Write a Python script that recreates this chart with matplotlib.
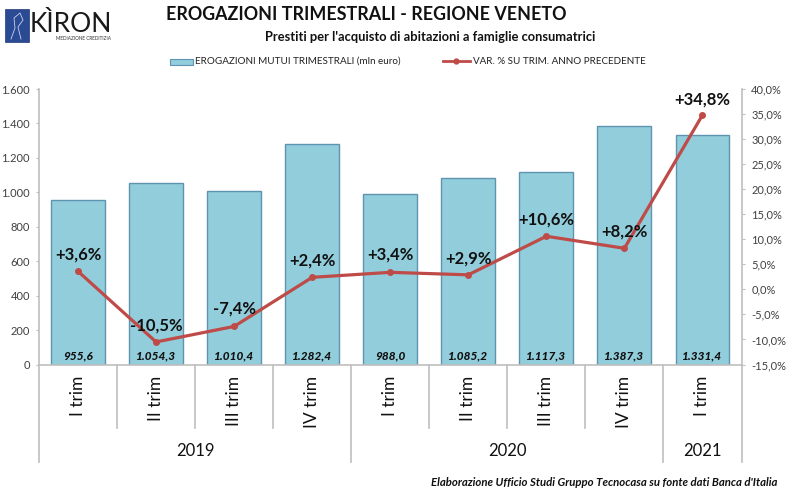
# -*- coding: utf-8 -*-
import matplotlib
matplotlib.use('Agg')
import matplotlib.pyplot as plt
from matplotlib.patches import Rectangle
from matplotlib.ticker import FuncFormatter

plt.rcParams['font.family'] = ['Lato', 'DejaVu Sans']

# dati
trimestri = ['I trim', 'II trim', 'III trim', 'IV trim', 'I trim', 'II trim', 'III trim', 'IV trim', 'I trim']
erogazioni = [955.6, 1054.3, 1010.4, 1282.4, 988.0, 1085.2, 1117.3, 1387.3, 1331.4]
etichette_barre = ['955,6', '1.054,3', '1.010,4', '1.282,4', '988,0', '1.085,2', '1.117,3', '1.387,3', '1.331,4']
variazioni = [3.6, -10.5, -7.4, 2.4, 3.4, 2.9, 10.6, 8.2, 34.8]
etichette_var = ['+3,6%', '-10,5%', '-7,4%', '+2,4%', '+3,4%', '+2,9%', '+10,6%', '+8,2%', '+34,8%']
anni = ['2019', '2020', '2021']
quarti_per_anno = [4, 4, 1]

W, H = 786, 494
fig = plt.figure(figsize=(W / 100, H / 100), dpi=100)
ax = fig.add_axes([39 / W, 1 - 364.5 / H, 702.5 / W, 275.5 / H])
x = list(range(len(erogazioni)))

# barre
ax.bar(x, erogazioni, width=0.69, color='#92CDDC', edgecolor='#5F94B0', linewidth=1, zorder=2)
ax.set_xlim(-0.5, 8.5)
ax.set_ylim(0, 1600)
ax.set_yticks(range(0, 1601, 200))
ax.yaxis.set_major_formatter(FuncFormatter(lambda v, p: f'{int(v):,}'.replace(',', '.')))
ax.tick_params(axis='y', labelsize=8, colors='#404040', length=2.5, color='#BFBFBF', pad=4)
ax.set_xticks([])
for s in ['top', 'right']:
    ax.spines[s].set_visible(False)
for s in ['left', 'bottom']:
    ax.spines[s].set_color('#BFBFBF')
    ax.spines[s].set_linewidth(1.2)

for xi, lab in zip(x, etichette_barre):
    ax.text(xi, 50, lab, ha='center', va='center', fontsize=8.5, fontweight='black',
            fontstyle='italic', color='#111111', zorder=5)

# linea variazione
ax2 = ax.twinx()
ax2.plot(x, variazioni, color='#BE4B48', linewidth=2.3, marker='o', markersize=4, zorder=4)
ax2.set_ylim(-15, 40)
ax2.set_yticks(range(-15, 41, 5))
ax2.yaxis.set_major_formatter(FuncFormatter(lambda v, p: f'{v:.1f}%'.replace('.', ',')))
ax2.tick_params(axis='y', labelsize=8, colors='#404040', length=2.5, color='#BFBFBF', pad=4.5)
for s in ['top', 'left', 'bottom']:
    ax2.spines[s].set_visible(False)
ax2.spines['right'].set_color('#BFBFBF')
ax2.spines['right'].set_linewidth(1.2)

# etichette variazione (scarto in punti dal marker)
scarti = [12, 12, 13, 12, 13, 12, 12, 12, 11]
for xi, v, lab, dy in zip(x, variazioni, etichette_var, scarti):
    ax2.annotate(lab, (xi, v), xytext=(0, dy), textcoords='offset points',
                 ha='center', va='center', fontsize=12, fontweight='bold', color='#111111', zorder=6)

# asse categorie su due livelli
tr = ax.get_xaxis_transform()
sotto_q = -(428 - 364.5) / 275.5
sotto_a = -(462 - 364.5) / 275.5
liv_q = -(376 - 364.5) / 275.5
liv_a = -(451 - 364.5) / 275.5
for xi, t in zip(x, trimestri):
    ax.text(xi, liv_q, t, transform=tr, rotation=90, ha='center', va='top', fontsize=12.5,
            color='#111111')
inizio = -0.5
bordi = [inizio]
for n in quarti_per_anno:
    inizio += n
    bordi.append(inizio)
for xs in range(1, 9):
    if xs - 0.5 not in bordi:
        ax.plot([xs - 0.5, xs - 0.5], [0, sotto_q], transform=tr, clip_on=False, color='#BFBFBF', lw=1.2)
for b in bordi:
    ax.plot([b, b], [0, sotto_a], transform=tr, clip_on=False, color='#BFBFBF', lw=1.2)
for a, b0, b1 in zip(anni, bordi[:-1], bordi[1:]):
    ax.text((b0 + b1) / 2, liv_a, a, transform=tr, ha='center', va='center', fontsize=12, color='#111111')

# titoli
fig.text(366 / W, 1 - 15 / H, 'EROGAZIONI TRIMESTRALI - REGIONE VENETO', ha='center', va='center',
         fontsize=12.9, fontweight='bold', color='#111111')
fig.text(430 / W, 1 - 37 / H, "Prestiti per l'acquisto di abitazioni a famiglie consumatrici", ha='center',
         va='center', fontsize=9.3, fontweight='bold', color='#111111')

# legenda
fig.add_artist(Rectangle((170 / W, 1 - 65 / H), 23 / W, 6 / H, transform=fig.transFigure,
                         facecolor='#92CDDC', edgecolor='#5F94B0', lw=0.8))
fig.text(195 / W, 1 - 61.5 / H, 'EROGAZIONI MUTUI TRIMESTRALI (mln euro)', ha='left', va='center',
         fontsize=7.1, color='#222222')
fig.add_artist(plt.Line2D([443 / W, 456.5 / W, 470 / W], [1 - 61.5 / H] * 3, color='#BE4B48', lw=2,
                          marker='o', markersize=3.5, markevery=[1], transform=fig.transFigure))
fig.text(473 / W, 1 - 61.5 / H, 'VAR. % SU TRIM. ANNO PRECEDENTE', ha='left', va='center',
         fontsize=7.1, color='#222222')

# logo
fig.add_artist(Rectangle((5 / W, 1 - 42 / H), 24 / W, 33 / H, transform=fig.transFigure,
                         facecolor='#2B4A94', edgecolor='#22397A', lw=0.5))
fig.add_artist(plt.Line2D([11 / W, 15 / W, 14 / W, 20 / W, 23 / W, 18 / W, 21 / W],
                          [1 - 39 / H, 1 - 28 / H, 1 - 18 / H, 1 - 13 / H, 1 - 20 / H, 1 - 27 / H, 1 - 39 / H],
                          color='#C9D3EA', lw=0.6, transform=fig.transFigure))
fig.text(30 / W, 1 - 25 / H, 'KÌRON', ha='left', va='center', fontsize=19, color='#1A1A1A')
fig.text(84 / W, 1 - 38.5 / H, 'MEDIAZIONE CREDITIZIA', ha='center', va='center', fontsize=3.4, color='#333333')

# fonte
fig.text(604 / W, 1 - 482 / H, "Elaborazione Ufficio Studi Gruppo Tecnocasa su fonte dati Banca d'Italia",
         ha='center', va='center', fontsize=8.2, fontweight='bold', fontstyle='italic', color='#111111')

fig.savefig('out.png', dpi=100)
